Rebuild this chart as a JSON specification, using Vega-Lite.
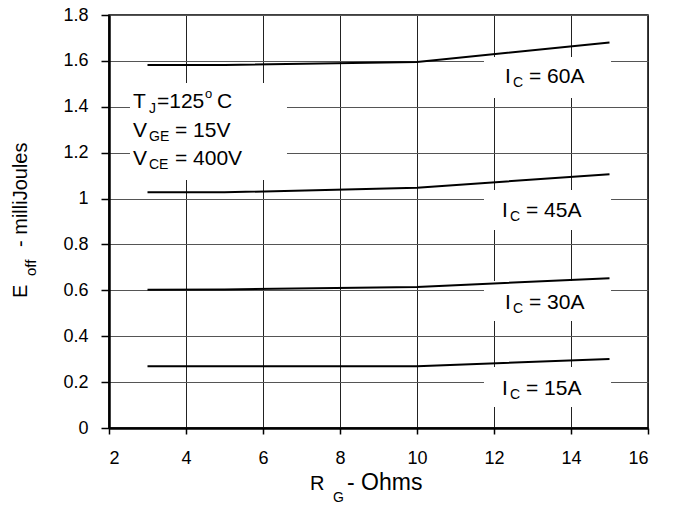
{
  "$schema": "https://vega.github.io/schema/vega-lite/v6.json",
  "width": 539,
  "height": 413,
  "autosize": {"type": "none"},
  "padding": {"left": 109, "top": 15, "right": 27, "bottom": 77},
  "background": "white",
  "config": {
    "font": "Liberation Sans",
    "view": {"stroke": "black", "strokeWidth": 1.5},
    "axis": {
      "domainColor": "black", "domainWidth": 2.5,
      "tickColor": "black", "tickWidth": 1.5,
      "gridColor": "#333333", "gridWidth": 1, "gridOpacity": 1,
      "labelColor": "black", "labelFont": "Liberation Sans", "labelFontSize": 18
    },
    "text": {"font": "Liberation Sans", "color": "black", "align": "left", "baseline": "alphabetic"}
  },
  "datasets": {
    "curves": [
      {"ic": "15A", "rg": 3, "eoff": 0.269},
      {"ic": "15A", "rg": 5, "eoff": 0.269},
      {"ic": "15A", "rg": 10, "eoff": 0.269},
      {"ic": "15A", "rg": 15, "eoff": 0.301},
      {"ic": "30A", "rg": 3, "eoff": 0.603},
      {"ic": "30A", "rg": 5, "eoff": 0.604},
      {"ic": "30A", "rg": 10, "eoff": 0.615},
      {"ic": "30A", "rg": 15, "eoff": 0.653},
      {"ic": "45A", "rg": 3, "eoff": 1.027},
      {"ic": "45A", "rg": 5, "eoff": 1.027},
      {"ic": "45A", "rg": 10, "eoff": 1.047},
      {"ic": "45A", "rg": 15, "eoff": 1.106},
      {"ic": "60A", "rg": 3, "eoff": 1.582},
      {"ic": "60A", "rg": 5, "eoff": 1.582},
      {"ic": "60A", "rg": 10, "eoff": 1.595},
      {"ic": "60A", "rg": 15, "eoff": 1.680}
    ],
    "one": [{}]
  },
  "layer": [
    {
      "data": {"name": "curves"},
      "mark": {"type": "line", "color": "black", "strokeWidth": 0, "opacity": 0},
      "encoding": {
        "x": {"field": "rg", "type": "quantitative", "scale": {"domain": [2, 16], "nice": false, "zero": false},
              "axis": {"values": [2, 4, 6, 8, 10, 12, 14, 16], "format": "d", "title": null, "tickSize": 6, "labelPadding": 15, "grid": true, "gridColor": "#222222"}},
        "y": {"field": "eoff", "type": "quantitative", "scale": {"domain": [0, 1.8], "nice": false, "zero": false},
              "axis": {"values": [0, 0.2, 0.4, 0.6, 0.8, 1, 1.2, 1.4, 1.6, 1.8], "format": "~g", "title": null, "tickSize": 8, "labelPadding": 13, "grid": true, "gridColor": "#555555"}},
        "detail": {"field": "ic"}
      }
    },
    {"data": {"name": "one"}, "mark": {"type": "rect", "color": "white"}, "encoding": {"x": {"datum": 2.545}, "x2": {"datum": 6.623}, "y": {"datum": 1.504}, "y2": {"datum": 1.081}}},
    {"data": {"name": "one"}, "mark": {"type": "rect", "color": "white"}, "encoding": {"x": {"datum": 11.74}, "x2": {"datum": 15.04}, "y": {"datum": 1.617}, "y2": {"datum": 1.438}}},
    {"data": {"name": "one"}, "mark": {"type": "rect", "color": "white"}, "encoding": {"x": {"datum": 11.74}, "x2": {"datum": 15.04}, "y": {"datum": 1.037}, "y2": {"datum": 0.863}}},
    {"data": {"name": "one"}, "mark": {"type": "rect", "color": "white"}, "encoding": {"x": {"datum": 11.74}, "x2": {"datum": 15.04}, "y": {"datum": 0.641}, "y2": {"datum": 0.466}}},
    {"data": {"name": "one"}, "mark": {"type": "rect", "color": "white"}, "encoding": {"x": {"datum": 11.74}, "x2": {"datum": 15.04}, "y": {"datum": 0.266}, "y2": {"datum": 0.0915}}},
    {
      "data": {"name": "curves"},
      "mark": {"type": "line", "color": "black", "strokeWidth": 2},
      "encoding": {
        "x": {"field": "rg", "type": "quantitative"},
        "y": {"field": "eoff", "type": "quantitative"},
        "detail": {"field": "ic"}
      }
    },
    {"data": {"name": "one"}, "mark": {"type": "text", "text": "T", "fontSize": 21}, "encoding": {"x": {"datum": 2.623}, "y": {"datum": 1.395}}},
    {"data": {"name": "one"}, "mark": {"type": "text", "text": "J", "fontSize": 14, "dx": 16, "dy": 5}, "encoding": {"x": {"datum": 2.623}, "y": {"datum": 1.395}}},
    {"data": {"name": "one"}, "mark": {"type": "text", "text": "=125", "fontSize": 21, "dx": 24}, "encoding": {"x": {"datum": 2.623}, "y": {"datum": 1.395}}},
    {"data": {"name": "one"}, "mark": {"type": "text", "text": "o", "fontSize": 13, "dx": 72, "dy": -10}, "encoding": {"x": {"datum": 2.623}, "y": {"datum": 1.395}}},
    {"data": {"name": "one"}, "mark": {"type": "text", "text": "C", "fontSize": 21, "dx": 84}, "encoding": {"x": {"datum": 2.623}, "y": {"datum": 1.395}}},
    {"data": {"name": "one"}, "mark": {"type": "text", "text": "V", "fontSize": 21}, "encoding": {"x": {"datum": 2.623}, "y": {"datum": 1.2685}}},
    {"data": {"name": "one"}, "mark": {"type": "text", "text": "GE", "fontSize": 14, "dx": 16, "dy": 4}, "encoding": {"x": {"datum": 2.623}, "y": {"datum": 1.2685}}},
    {"data": {"name": "one"}, "mark": {"type": "text", "text": "= 15V", "fontSize": 21, "dx": 42}, "encoding": {"x": {"datum": 2.623}, "y": {"datum": 1.2685}}},
    {"data": {"name": "one"}, "mark": {"type": "text", "text": "V", "fontSize": 21}, "encoding": {"x": {"datum": 2.623}, "y": {"datum": 1.1465}}},
    {"data": {"name": "one"}, "mark": {"type": "text", "text": "CE", "fontSize": 14, "dx": 16, "dy": 4}, "encoding": {"x": {"datum": 2.623}, "y": {"datum": 1.1465}}},
    {"data": {"name": "one"}, "mark": {"type": "text", "text": "= 400V", "fontSize": 21, "dx": 42}, "encoding": {"x": {"datum": 2.623}, "y": {"datum": 1.1465}}},

    {"data": {"name": "one"}, "mark": {"type": "text", "text": "I", "fontSize": 21}, "encoding": {"x": {"datum": 12.286}, "y": {"datum": 1.504}}},
    {"data": {"name": "one"}, "mark": {"type": "text", "text": "C", "fontSize": 14, "dx": 8, "dy": 4}, "encoding": {"x": {"datum": 12.286}, "y": {"datum": 1.504}}},
    {"data": {"name": "one"}, "mark": {"type": "text", "text": "= 60A", "fontSize": 21, "dx": 24}, "encoding": {"x": {"datum": 12.286}, "y": {"datum": 1.504}}},

    {"data": {"name": "one"}, "mark": {"type": "text", "text": "I", "fontSize": 21}, "encoding": {"x": {"datum": 12.208}, "y": {"datum": 0.92}}},
    {"data": {"name": "one"}, "mark": {"type": "text", "text": "C", "fontSize": 14, "dx": 8, "dy": 4}, "encoding": {"x": {"datum": 12.208}, "y": {"datum": 0.92}}},
    {"data": {"name": "one"}, "mark": {"type": "text", "text": "= 45A", "fontSize": 21, "dx": 24}, "encoding": {"x": {"datum": 12.208}, "y": {"datum": 0.92}}},

    {"data": {"name": "one"}, "mark": {"type": "text", "text": "I", "fontSize": 21}, "encoding": {"x": {"datum": 12.286}, "y": {"datum": 0.5187}}},
    {"data": {"name": "one"}, "mark": {"type": "text", "text": "C", "fontSize": 14, "dx": 8, "dy": 4}, "encoding": {"x": {"datum": 12.286}, "y": {"datum": 0.5187}}},
    {"data": {"name": "one"}, "mark": {"type": "text", "text": "= 30A", "fontSize": 21, "dx": 24}, "encoding": {"x": {"datum": 12.286}, "y": {"datum": 0.5187}}},

    {"data": {"name": "one"}, "mark": {"type": "text", "text": "I", "fontSize": 21}, "encoding": {"x": {"datum": 12.208}, "y": {"datum": 0.1439}}},
    {"data": {"name": "one"}, "mark": {"type": "text", "text": "C", "fontSize": 14, "dx": 8, "dy": 4}, "encoding": {"x": {"datum": 12.208}, "y": {"datum": 0.1439}}},
    {"data": {"name": "one"}, "mark": {"type": "text", "text": "= 15A", "fontSize": 21, "dx": 24}, "encoding": {"x": {"datum": 12.208}, "y": {"datum": 0.1439}}},

    {"data": {"name": "one"}, "mark": {"type": "text", "text": "R", "fontSize": 20}, "encoding": {"x": {"datum": 7.221}, "y": {"datum": -0.2703}}},
    {"data": {"name": "one"}, "mark": {"type": "text", "text": "G", "fontSize": 14, "dx": 23, "dy": 12}, "encoding": {"x": {"datum": 7.221}, "y": {"datum": -0.2703}}},
    {"data": {"name": "one"}, "mark": {"type": "text", "text": "- Ohms", "fontSize": 23, "dx": 37}, "encoding": {"x": {"datum": 7.221}, "y": {"datum": -0.2703}}},

    {"data": {"name": "one"}, "mark": {"type": "text", "text": "E", "fontSize": 20, "angle": 270}, "encoding": {"x": {"datum": -0.13}, "y": {"datum": 0.5667}}},
    {"data": {"name": "one"}, "mark": {"type": "text", "text": "off", "fontSize": 15, "angle": 270, "dx": 22, "dy": 9}, "encoding": {"x": {"datum": -0.13}, "y": {"datum": 0.5667}}},
    {"data": {"name": "one"}, "mark": {"type": "text", "text": "- milliJoules", "fontSize": 20, "angle": 270, "dx": 51}, "encoding": {"x": {"datum": -0.13}, "y": {"datum": 0.5667}}}
  ]
}
